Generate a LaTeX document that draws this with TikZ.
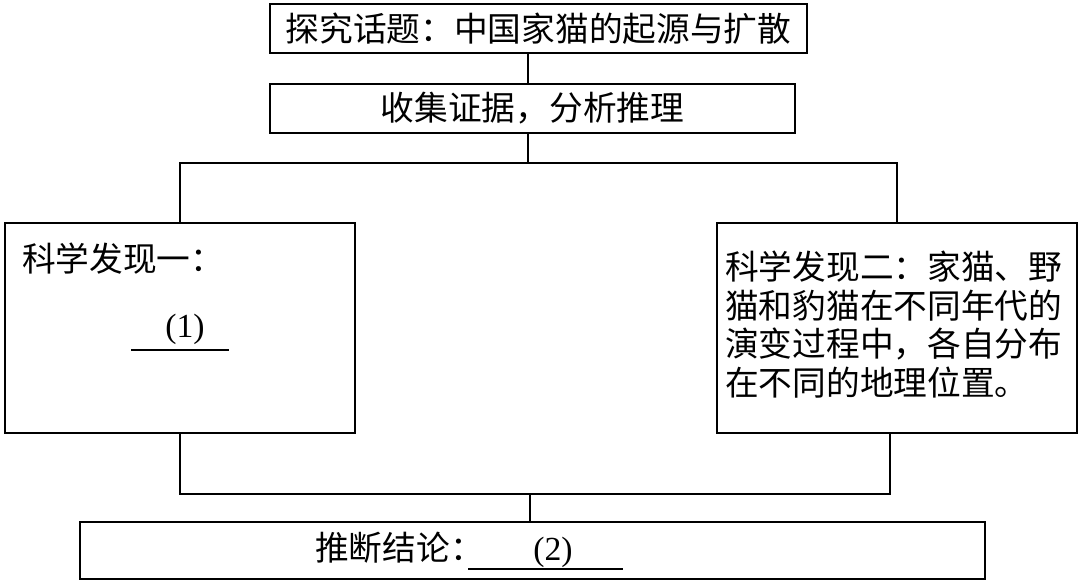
\documentclass[tikz,border=0pt]{standalone}
\usepackage{fontspec}
\setmainfont{Liberation Serif}
\newfontfamily\cjk{Noto Sans CJK SC}
\begin{document}
\begin{tikzpicture}[x=1pt,y=-1pt,
  box/.style={draw=black,line width=2.2pt,inner sep=0pt,fill=white},
  txt/.style={inner sep=0pt,font=\fontsize{33.7}{38.5}\selectfont},
  conn/.style={draw=black,line width=2.2pt}]
\useasboundingbox (0,0) rectangle (1080,584);
\fill[white] (0,0) rectangle (1080,584);
% boxes
\node[box,txt,minimum width=537pt,minimum height=49pt] (t1) at (538.5,28.5) {\cjk 探究话题：中国家猫的起源与扩散};
\node[box,txt,minimum width=525pt,minimum height=49pt] (t2) at (532.5,108.5) {\cjk 收集证据，分析推理\hspace{40pt}};
\node[box,minimum width=350pt,minimum height=210pt] (L) at (180,328) {};
\node[box,minimum width=360pt,minimum height=210pt] (R) at (897,328) {};
\node[box,minimum width=905pt,minimum height=57pt] (B) at (532.5,550.5) {};
% texts
\node[txt,anchor=base west] (l1) at (22,271) {\cjk 科学发现一：};
\node[txt,anchor=base] (n1) at (185,337) {(1)};
\coordinate (u1a) at (131,350);
\coordinate (u1b) at (229,350);
\draw[line width=2.2pt] (u1a) -- (u1b);
\node[txt,anchor=base west,align=left] (r1) at (725,395) {\cjk 科学发现二：家猫、野\\\cjk 猫和豹猫在不同年代的\\\cjk 演变过程中，各自分布\\\cjk 在不同的地理位置。};
\node[txt,anchor=base west] (b1) at (315,560) {\cjk 推断结论：};
\node[txt,anchor=base] (n2) at (553,560) {(2)};
\coordinate (u2a) at (468,569);
\coordinate (u2b) at (623,569);
\draw[line width=2.2pt] (u2a) -- (u2b);
% connectors
\coordinate (cx) at (528,0);
\coordinate (jt) at (528,163);
\coordinate (jb) at (530,494);
\coordinate (rbx) at (890,0);
\draw[conn] (t1.south -| cx) -- (t2.north -| cx);
\draw[conn] (t2.south -| cx) -- (jt);
\draw[conn] (L.north) |- (jt) -| (R.north);
\draw[conn] (L.south) |- (jb) -| (R.south -| rbx);
\draw[conn] (jb) -- (B.north -| jb);
\end{tikzpicture}
\end{document}
